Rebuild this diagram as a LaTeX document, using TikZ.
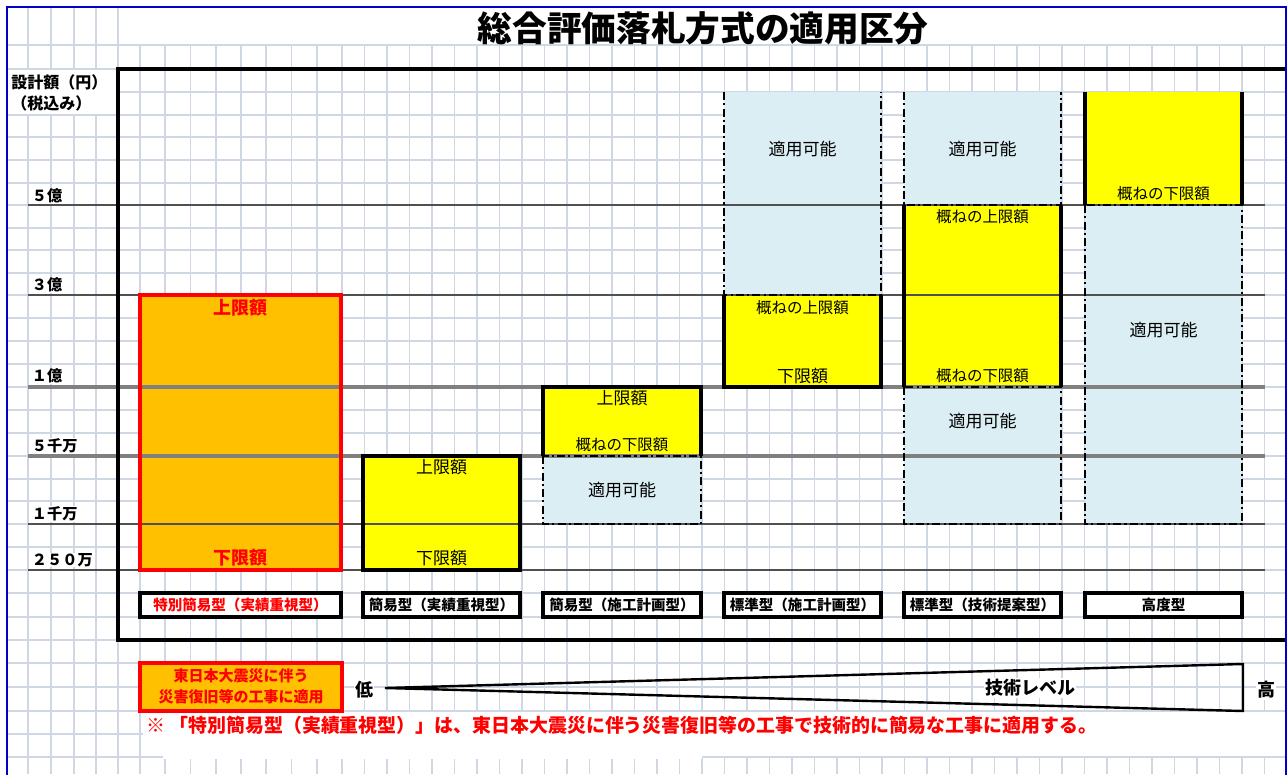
\documentclass[tikz,border=0pt]{standalone}
\usepackage{fontspec}
\setmainfont{Noto Sans CJK JP}
\newcommand\myfs[1]{\fontsize{#1}{#1}\selectfont}
\definecolor{gridc}{HTML}{CFD7E5}
\definecolor{lblue}{HTML}{DAEEF3}
\definecolor{ylw}{HTML}{FFFF00}
\definecolor{orng}{HTML}{FFC000}
\definecolor{rd}{HTML}{FF0000}
\definecolor{bordb}{HTML}{0000CC}
\definecolor{vline}{HTML}{808080}
\definecolor{vthin}{HTML}{505050}
\begin{document}
\begin{tikzpicture}[x=0.75pt,y=-0.75pt,
  gridline/.style={draw=gridc,line width=1.3pt},
  solidb/.style={draw=black,line width=2.7pt},
  ddb/.style={draw=black,line width=1.8pt,dash pattern=on 6pt off 2.4pt on 1.6pt off 2.4pt},
  thinv/.style={draw=vthin,line width=0.9pt},
  thickv/.style={draw=vline,line width=2.4pt},
  ttl/.style={inner sep=0pt,font=\bfseries\myfs{26pt}},
  ylab/.style={anchor=west,inner sep=0pt,font=\bfseries\myfs{12pt}},
  vlab/.style={anchor=west,fill=white,inner sep=0.5pt,font=\bfseries\myfs{11.4pt}},
  redt/.style={inner sep=0pt,text=rd,font=\bfseries\myfs{13.5pt}},
  nt/.style={inner sep=0pt,font=\myfs{12.75pt}},
  smt/.style={inner sep=0pt,font=\myfs{11.6pt}},
  lbt/.style={inner sep=0pt,font=\bfseries\myfs{10.9pt}},
  lbox/.style={draw=black,fill=white,line width=2.4pt},
  btxt/.style={inner sep=0pt,text=rd,font=\bfseries\myfs{11.25pt}},
  bigt/.style={inner sep=1pt,fill=white,font=\bfseries\myfs{13.5pt}},
]
\useasboundingbox (0,0) rectangle (1287,774);
\fill[white] (0,0) rectangle (1287,774);
% grid
\foreach \y in {45,69,92,115,137,160,183,205,228,250,273,295,318,341,364,387,410,433,456,479,501,524,547,570,593,617,640,663,687,711,734,757}
  \draw[gridline] (7,\y) -- (1286,\y);
\foreach \x in {28,51,74,96,118}
  \draw[gridline] (\x,7) -- (\x,774);
\foreach \k in {0,...,8}
  \draw[gridline] ({140+25.25*\k},45) -- ++(0,729);
\foreach \k in {1,...,41}
  \draw[gridline] ({342+22.5*\k},45) -- ++(0,729);
% white areas (text overflow)
\fill[white] (8,70) rectangle (117,114);
\fill[white] (143,712) rectangle (1285,756.2);
\fill[white] (162.5,756) rectangle (701.5,759);
% fills
\fill[orng] (140,295) rectangle (341,570);
\fill[ylw] (363,456) rectangle (520,570);
\fill[ylw] (543,387) rectangle (701,456);
\fill[lblue] (543,456) rectangle (701,524);
\fill[lblue] (724,92) rectangle (881,295);
\fill[ylw] (724,295) rectangle (881,387);
\fill[lblue] (904,92) rectangle (1061,205);
\fill[ylw] (904,205) rectangle (1061,387);
\fill[lblue] (904,387) rectangle (1061,524);
\fill[ylw] (1085,92) rectangle (1242,205);
\fill[lblue] (1085,205) rectangle (1242,524);
% value lines
\foreach \y in {205,295,524,570}
  \draw[thinv] (28,\y) -- (1265,\y);
\foreach \y in {387,456}
  \draw[thickv] (28,\y) -- (1265,\y);
% chart frame
\draw[line width=2.7pt] (1290,69) -- (118,69) -- (118,640) -- (1290,640);
% blue border
\draw[bordb,line width=1.8pt] (7,776) -- (7,7) -- (1286,7) -- (1286,776);
% borders
\draw[rd,line width=2.6pt] (140,295) rectangle (341,570);
\draw[solidb] (363,456) rectangle (520,570);
\draw[ddb] (543,456) rectangle (701,524);
\draw[solidb] (543,456) -- (543,387) -- (701,387) -- (701,456);
\draw[ddb] (724,92) -- (724,295) -- (881,295) -- (881,92);
\draw[solidb] (724,295) -- (724,387) -- (881,387) -- (881,295);
\draw[ddb] (904,92) -- (904,205) -- (1061,205) -- (1061,92);
\draw[ddb] (904,387) rectangle (1061,524);
\draw[solidb] (904,205) -- (904,387);
\draw[solidb] (1061,205) -- (1061,387);
\draw[ddb] (1085,205) rectangle (1242,524);
\draw[solidb] (1085,92) -- (1085,205);
\draw[solidb] (1242,92) -- (1242,205);
% title and axis labels
\node[ttl] (title) at (703,28) {総合評価落札方式の適用区分};
\node[ylab] (ya1) at (11,82) {設計額（円）};
\node[ylab] (ya2) at (11,103) {（税込み）};
\node[vlab] (v5oku) at (31,196) {５億};
\node[vlab] (v3oku) at (31,285) {３億};
\node[vlab] (v1oku) at (31,376) {１億};
\node[vlab] (v5sen) at (31,446) {５千万};
\node[vlab] (v1sen) at (31,514) {１千万};
\node[vlab] (v250) at (31,560) {２５０万};
% box texts
\node[redt] (b1u) at (240.5,308) {上限額};
\node[redt] (b1l) at (240.5,558) {下限額};
\node[nt] (b2u) at (441.5,467) {上限額};
\node[nt] (b2l) at (441.5,558) {下限額};
\node[nt] (b3u) at (622,398) {上限額};
\node[smt] (b3l) at (622,445) {概ねの下限額};
\node[nt] (b3a) at (622,490) {適用可能};
\node[nt] (b4a) at (802.5,149) {適用可能};
\node[smt] (b4u) at (802.5,308) {概ねの上限額};
\node[nt] (b4l) at (802.5,376) {下限額};
\node[nt] (b5a) at (982.5,149) {適用可能};
\node[smt] (b5u) at (982.5,217) {概ねの上限額};
\node[smt] (b5l) at (982.5,376) {概ねの下限額};
\node[nt] (b5b) at (982.5,421) {適用可能};
\node[smt] (b6l) at (1163.5,194) {概ねの下限額};
\node[nt] (b6a) at (1163.5,330) {適用可能};
% label boxes
\draw[lbox] (140,593) rectangle (341,617);
\draw[lbox] (363,593) rectangle (520,617);
\draw[lbox] (543,593) rectangle (701,617);
\draw[lbox] (724,593) rectangle (881,617);
\draw[lbox] (904,593) rectangle (1061,617);
\draw[lbox] (1085,593) rectangle (1242,617);
\node[lbt,text=rd] (l1) at (240.5,605) {特別簡易型（実績重視型）};
\node[lbt] (l2) at (441.5,605) {簡易型（実績重視型）};
\node[lbt] (l3) at (622,605) {簡易型（施工計画型）};
\node[lbt] (l4) at (802.5,605) {標準型（施工計画型）};
\node[lbt] (l5) at (982.5,605) {標準型（技術提案型）};
\node[lbt] (l6) at (1163.5,605) {高度型};
% bottom legend
\draw[rd,line width=2.6pt,fill=orng] (140,663) rectangle (342,711);
\node[btxt] (bb1) at (241,676) {東日本大震災に伴う};
\node[btxt] (bb2) at (241,697) {災害復旧等の工事に適用};
\coordinate (wt) at (385,688);
\coordinate (wa) at (1243,664);
\coordinate (wb) at (1243,711);
\draw[line width=1.8pt,line join=miter] (wt) -- (wa) -- (wb) -- cycle;
\node[bigt] (low) at (364,690) {低};
\node[bigt] (high) at (1266,690) {高};
\node[bigt] (lvl) at (1030,688) {技術レベル};
\node[anchor=west,inner sep=0pt,text=rd,font=\bfseries\myfs{14.2pt}] (note) at (146,725) {※ 「特別簡易型（実績重視型）」は、東日本大震災に伴う災害復旧等の工事で技術的に簡易な工事に適用する。};
\end{tikzpicture}
\end{document}
